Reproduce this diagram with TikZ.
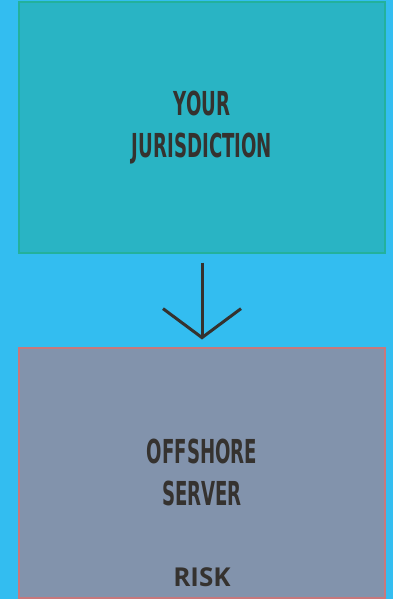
\documentclass[tikz,border=0pt]{standalone}
\usepackage{fontspec}
\setmainfont{Open Sans}
\newfontfamily\tallfont[FakeStretch=0.55]{DejaVu Sans}
\usetikzlibrary{arrows.meta,positioning}

\definecolor{skyback}{HTML}{33BDF0}
\definecolor{homefill}{HTML}{29B4C4}
\definecolor{homeedge}{HTML}{23B19C}
\definecolor{awayfill}{HTML}{8293AC}
\definecolor{awayedge}{HTML}{C8787C}
\definecolor{inkdark}{HTML}{35322F}

\begin{document}
\begin{tikzpicture}[x=1pt,y=-1pt,>={Straight Barb[length=29pt,width=78pt]},thick]
\tikzset{BoxStyle/.style = {draw,rectangle,line width=2pt,
                            minimum width=366pt,minimum height=250pt,
                            align=center,text=inkdark,
                            font=\tallfont\bfseries\fontsize{33}{42}\selectfont},
         RiskStyle/.style = {text=inkdark,inner sep=0pt,
                            font=\bfseries\fontsize{26}{30}\selectfont}}
\fill[skyback] (0,0) rectangle (393,599);
\useasboundingbox (0,0) rectangle (393,599);
\node[BoxStyle,fill=homefill,draw=homeedge] (home) at (202,127.5) {YOUR\\JURISDICTION};
\node[BoxStyle,fill=awayfill,draw=awayedge,below=93pt of home] (away) {OFFSHORE\\SERVER};
\node[RiskStyle,above=11pt of away.south] (risk) {RISK};
\draw[->,line width=3pt,draw=inkdark,shorten <=9pt,shorten >=7pt] (home) -- (away);
\end{tikzpicture}
\end{document}
